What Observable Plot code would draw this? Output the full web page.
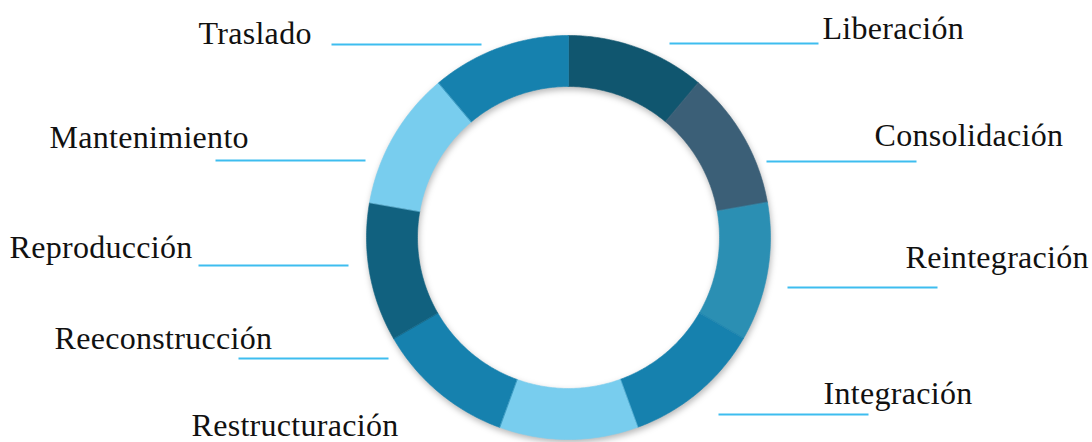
<!DOCTYPE html>
<html>
<head>
<meta charset="utf-8">
<script src="https://cdn.jsdelivr.net/npm/d3@7"></script>
<script src="https://cdn.jsdelivr.net/npm/@observablehq/plot@0.6"></script>
<style>
  html, body { margin: 0; padding: 0; background: #fff; }
  #chart { width: 1092px; height: 442px; overflow: hidden; }
</style>
</head>
<body>
<div id="chart"></div>
<script>
// ---- data ----
const categories = ["Liberación", "Consolidación", "Reintegración", "Integración", "Restructuración",
                    "Reeconstrucción", "Reproducción", "Mantenimiento", "Traslado"];
const values = [1, 1, 1, 1, 1, 1, 1, 1, 1];
const colors = ["#10566F", "#3B5F77", "#2B8FB3", "#1681AE", "#78CDEE",
                "#1681AE", "#11617F", "#78CDEE", "#1681AE"];

// ---- layout (pixel space of the plot) ----
const W = 1092, H = 442;
const cx = 568, cy = 237, rOuter = 202, rInner = 151;
// label text anchor (start x, baseline y) and leader line (x1, x2, y)
const labelLayout = {
  "Liberación":      {tx: 822, ty: 38,  x1: 669, x2: 818, ly: 43},
  "Consolidación":   {tx: 874, ty: 145, x1: 766, x2: 916, ly: 161},
  "Reintegración":   {tx: 905, ty: 267, x1: 787, x2: 937, ly: 287},
  "Integración":     {tx: 823, ty: 403, x1: 718, x2: 868, ly: 414},
  "Restructuración": {tx: 191, ty: 435, x1: null, x2: null, ly: null},
  "Reeconstrucción": {tx: 54,  ty: 348, x1: 238, x2: 388, ly: 358},
  "Reproducción":    {tx: 9,   ty: 257, x1: 198, x2: 348, ly: 265},
  "Mantenimiento":   {tx: 49,  ty: 147, x1: 215, x2: 365, ly: 160},
  "Traslado":        {tx: 198, ty: 43,  x1: 331, x2: 481, ly: 44}
};

// ---- build ring segments from the data with d3.pie ----
const pie = d3.pie().sort(null).value(d => d.value);
const arcs = pie(categories.map((c, i) => ({name: c, value: values[i]})));
const ringPts = [];
const STEPS = 60;
arcs.forEach(a => {
  const pts = [];
  for (let k = 0; k <= STEPS; k++) {
    const t = a.startAngle + (a.endAngle - a.startAngle) * k / STEPS;
    pts.push([cx + rOuter * Math.sin(t), cy - rOuter * Math.cos(t)]);
  }
  for (let k = STEPS; k >= 0; k--) {
    const t = a.startAngle + (a.endAngle - a.startAngle) * k / STEPS;
    pts.push([cx + rInner * Math.sin(t), cy - rInner * Math.cos(t)]);
  }
  pts.forEach(p => ringPts.push({name: a.data.name, x: p[0], y: p[1]}));
});

const labels = categories.map(c => ({name: c, ...labelLayout[c]}));
const leaders = labels.filter(d => d.x1 != null);

const plot = Plot.plot({
  width: W,
  height: H,
  margin: 0,
  x: {domain: [0, W], range: [0, W], axis: null},
  y: {domain: [0, H], range: [0, H], axis: null},
  color: {domain: categories, range: colors},
  style: {background: "transparent", overflow: "visible"},
  marks: [
    Plot.line(ringPts, {x: "x", y: "y", z: "name", fill: "name", stroke: "name", strokeWidth: 0.6, curve: "linear-closed"}),
    Plot.link(leaders, {x1: "x1", x2: "x2", y1: "ly", y2: "ly", stroke: "#3EBDEF", strokeWidth: 2}),
    Plot.text(labels, {x: "tx", y: "ty", text: "name", textAnchor: "start", lineAnchor: "bottom",
      fontFamily: "Liberation Serif", fontSize: 32, fill: "#111"})
  ]
});

document.getElementById("chart").appendChild(plot);
d3.select(plot).selectAll('g[aria-label="line"]').style("filter", "drop-shadow(1px 3px 3px rgba(0,0,0,0.28))");
d3.select(plot).selectAll('g[aria-label="text"]').style("letter-spacing", "0.3px");
</script>
</body>
</html>
